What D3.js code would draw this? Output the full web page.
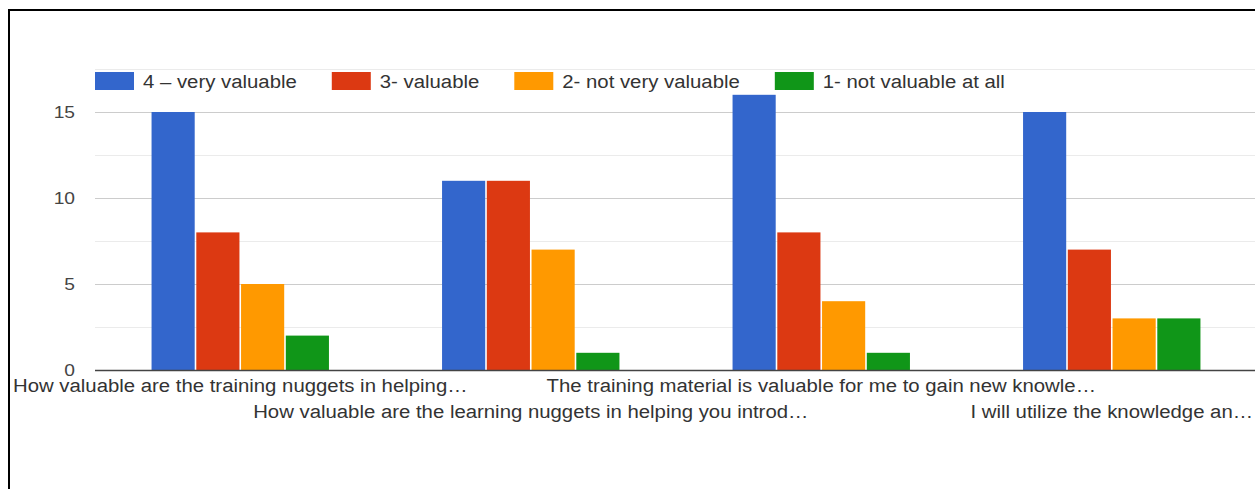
<!DOCTYPE html>
<html>
<head>
<meta charset="utf-8">
<script src="https://cdn.jsdelivr.net/npm/d3@7"></script>
<style>
  html, body { margin: 0; padding: 0; background: #fff; }
  svg { display: block; }
  text { font-family: "Liberation Sans", Arial, sans-serif; }
</style>
</head>
<body>
<svg id="chart" width="1255" height="489"></svg>
<script>
// Survey answers per question
const categories = [
  "How valuable are the training nuggets in helping\u2026",
  "How valuable are the learning nuggets in helping you introd\u2026",
  "The training material is valuable for me to gain new knowle\u2026",
  "I will utilize the knowledge an\u2026"
];
const seriesNames = ["4 \u2013 very valuable", "3- valuable", "2- not very valuable", "1- not valuable at all"];
const veryValuable = [15, 11, 16, 15];
const valuable = [8, 11, 8, 7];
const notVeryValuable = [5, 7, 4, 3];
const notValuableAtAll = [2, 1, 1, 3];
const seriesColors = ["#3366cc", "#dc3912", "#ff9900", "#109618"];
const yTickValues = [0, 5, 10, 15];
const gridValues = [2.5, 5, 7.5, 10, 12.5, 15, 17.5];

const seriesValues = [veryValuable, valuable, notVeryValuable, notValuableAtAll];
const rows = categories.map((c, i) => ({
  category: c,
  values: seriesNames.map((s, j) => ({ series: s, value: seriesValues[j][i], color: seriesColors[j] }))
}));

const svg = d3.select("#chart");

// Text in this chart is drawn slightly wide
const WIDEN = 1.13;
function widen(sel) {
  sel.each(function () {
    const w = this.getComputedTextLength() * WIDEN;
    d3.select(this)
      .attr("data-width", w)
      .attr("textLength", w)
      .attr("lengthAdjust", "spacingAndGlyphs");
  });
}

// Frame
svg.append("path")
  .attr("d", "M9,489V10H1255")
  .attr("fill", "none")
  .attr("stroke", "#000")
  .attr("stroke-width", 2);

const plotLeft = 95, plotRight = 1257, plotTop = 69, plotBottom = 370;

const y = d3.scaleLinear().domain([0, 17.5]).range([plotBottom, plotTop]);
const x0 = d3.scaleBand().domain(categories).range([plotLeft, plotRight]).padding(0);
const x1 = d3.scaleBand().domain(seriesNames).range([0, x0.bandwidth()])
  .paddingInner(0).paddingOuter(1.246);

// Gridlines
svg.append("g").selectAll("line")
  .data(gridValues)
  .join("line")
  .attr("x1", plotLeft).attr("x2", 1255)
  .attr("y1", d => Math.round(y(d)) + 0.5).attr("y2", d => Math.round(y(d)) + 0.5)
  .attr("stroke", d => d % 5 === 0 ? "#cccccc" : "#ebebeb")
  .attr("stroke-width", 1.2);

// Y axis labels
const yAxis = d3.axisLeft(y).tickValues(yTickValues).tickSize(0).tickPadding(0).tickFormat(d3.format("d"));
const yAxisG = svg.append("g").attr("transform", `translate(75,0)`).call(yAxis);
yAxisG.select(".domain").remove();
yAxisG.selectAll("text")
  .attr("fill", "#444")
  .style("font-size", "17px")
  .call(widen);

// Bars
const groups = svg.append("g").selectAll("g")
  .data(rows)
  .join("g")
  .attr("transform", d => `translate(${x0(d.category)},0)`);

groups.selectAll("rect")
  .data(d => d.values)
  .join("rect")
  .attr("x", d => x1(d.series) + 0.8)
  .attr("width", x1.bandwidth() - 1.6)
  .attr("y", d => y(d.value))
  .attr("height", d => y(0) - y(d.value))
  .attr("fill", d => d.color);

// Baseline
svg.append("line")
  .attr("x1", plotLeft).attr("x2", 1255)
  .attr("y1", y(0) + 0.5).attr("y2", y(0) + 0.5)
  .attr("stroke", "#444")
  .attr("stroke-width", 1.6);

// Category labels, staggered on two rows
const xAxis = d3.axisBottom(x0).tickSize(0).tickPadding(0);
const xAxisG = svg.append("g").call(xAxis);
xAxisG.select(".domain").remove();
xAxisG.selectAll(".tick text")
  .attr("y", (d, i) => i % 2 === 0 ? 392 : 418)
  .attr("dy", 0)
  .attr("fill", "#333")
  .style("font-size", "18px")
  .call(widen);

// Legend
const legend = svg.append("g");
let lx = 95;
seriesNames.forEach((name, i) => {
  legend.append("rect")
    .attr("x", lx).attr("y", 72)
    .attr("width", 39).attr("height", 18)
    .attr("fill", seriesColors[i]);
  const t = legend.append("text")
    .attr("x", lx + 48).attr("y", 88.3)
    .attr("fill", "#333")
    .style("font-size", "18px")
    .text(name)
    .call(widen);
  lx = lx + 48 + (+t.attr("data-width")) + 35;
});
</script>
</body>
</html>
